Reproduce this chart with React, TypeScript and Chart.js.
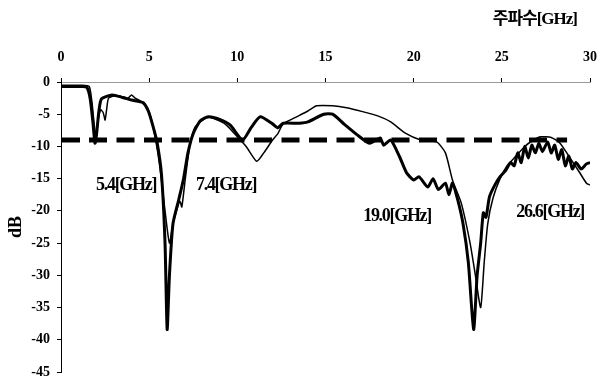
import React, { useEffect, useRef } from "react";
import { Chart, registerables } from "chart.js";

Chart.register(...registerables);

// thick trace
const freqA = [0, 1.0, 1.45, 1.65, 1.8, 1.93, 2.02, 2.15, 2.3, 2.9, 3.5, 4.0, 4.65, 4.95, 5.2, 5.45, 5.7, 5.9, 6.02, 6.15, 6.35, 6.7, 6.95, 7.2, 7.5, 7.9, 8.35, 9.0, 9.6, 10.3, 10.8, 11.3, 12.0, 12.3, 12.6, 13.5, 14.0, 14.9, 15.4, 16.0, 16.8, 17.5, 18.1, 18.3, 18.7, 19.2, 19.6, 20.0, 20.3, 20.8, 21.1, 21.4, 21.8, 22.0, 22.2, 22.5, 22.8, 23.1, 23.4, 23.6, 23.8, 23.95, 24.1, 24.3, 24.6, 24.9, 25.2, 25.5, 25.7, 25.9, 26.1, 26.3, 26.5, 26.7, 26.9, 27.1, 27.3, 27.6, 27.8, 28.0, 28.2, 28.4, 28.6, 28.8, 29.0, 29.2, 29.5, 29.8, 30];
const dbA = [-0.7, -0.7, -0.8, -2.5, -6, -9.5, -8, -4.5, -2.6, -2.0, -2.4, -2.8, -3.2, -4.5, -6.7, -9.4, -14.4, -25, -38.4, -30, -22, -18, -15, -11, -8, -6, -5.4, -5.8, -6.7, -9, -7, -5.4, -6.5, -7.1, -6.4, -6.4, -6.2, -5, -5, -6.4, -8.2, -9.5, -8.7, -9.8, -9, -11.6, -14.1, -15.2, -14.7, -16.3, -15, -16.7, -15.7, -17.5, -15.7, -18.3, -22, -28, -38.4, -30, -25, -20.3, -21, -17.8, -16, -14.7, -13.8, -12.5, -13, -11, -12.5, -10, -11.8, -9.8, -11, -9.5, -10.8, -9.3, -11, -9.8, -12, -10.5, -13, -11.5, -13.5, -12.5, -13.5, -12.7, -12.5];

// thin trace
const freqB = [0, 1.2, 1.6, 1.75, 1.9, 2.0, 2.1, 2.25, 2.4, 2.5, 2.6, 2.7, 3.1, 3.5, 3.8, 4.0, 4.2, 4.6, 4.9, 5.1, 5.35, 5.6, 5.9, 6.15, 6.35, 6.6, 6.75, 6.85, 7.05, 7.3, 7.6, 8.2, 8.5, 9.3, 10.0, 10.5, 11.1, 11.5, 12.0, 12.3, 12.6, 13.3, 14.0, 14.5, 15.4, 16.2, 17.1, 18.0, 18.7, 19.5, 20.4, 21.3, 21.8, 22.2, 22.7, 23.2, 23.5, 23.8, 24.0, 24.2, 24.5, 24.9, 25.3, 25.8, 26.3, 26.8, 27.2, 27.8, 28.3, 28.8, 29.4, 29.8, 30];
const dbB = [-0.5, -0.5, -0.7, -3, -7, -8.5, -6, -4.3, -4.8, -5.9, -4, -2.5, -2.1, -2.3, -2.5, -2.0, -2.5, -3.1, -4, -5.5, -8.7, -13, -20, -25, -22, -19.5, -18.5, -19.4, -15, -10, -7, -5.6, -5.5, -6.5, -8.5, -10, -12.3, -11, -9, -8, -6.5, -5.5, -4.5, -3.7, -3.7, -4, -4.6, -5.3, -6.2, -7.9, -9, -9.3, -11, -15.2, -18.8, -25, -30, -35, -28, -22, -18, -15, -13, -11.5, -10, -9, -8.5, -8.6, -9.5, -11.5, -14, -15.7, -16];

// -9 dB reference line
const refFreq = [0, 28.7];
const refDb = [-9, -9];

const xTicks = [0, 5, 10, 15, 20, 25, 30];
const yTicks = [0, -5, -10, -15, -20, -25, -30, -35, -40, -45];

const xTitle = "주파수[GHz]";
const yTitle = "dB";
const bandLabels = ["5.4[GHz]", "7.4[GHz]", "19.0[GHz]", "26.6[GHz]"];
const bandLabelFreq = [3.69, 9.36, 19.06, 27.74];
const bandLabelDb = [-16.1, -16.0, -20.9, -20.3];

const serif = "'Liberation Serif', 'Times New Roman', serif";

const toPts = (xs: number[], ys: number[]) => xs.map((x, i) => ({ x, y: ys[i] }));

const labelPlugin = {
  id: "bandLabels",
  afterDraw(chart: any) {
    const { ctx, scales, chartArea } = chart;
    ctx.save();
    // dashed -9 dB reference line, positioned through the scales
    const x0 = scales.x.getPixelForValue(refFreq[0]) + 1;
    const x1 = scales.x.getPixelForValue(refFreq[1]);
    const yr = scales.y.getPixelForValue(refDb[0]);
    ctx.fillStyle = "#000";
    ctx.globalAlpha = 1;
    ctx.globalCompositeOperation = "source-over";
    ctx.fillRect(x0, yr - 2.5, 18, 5);
    for (let x = x0 + 27; x < x1; x += 27.5) {
      ctx.fillRect(x, yr - 2.5, Math.min(18, x1 - x), 5);
    }

    ctx.font = `bold 18px ${serif}`;
    ctx.textAlign = "center";
    ctx.textBaseline = "middle";
    try { (ctx as any).letterSpacing = "-1.3px"; } catch (e) {}
    bandLabels.forEach((t, i) => {
      ctx.fillText(t, scales.x.getPixelForValue(bandLabelFreq[i]), scales.y.getPixelForValue(bandLabelDb[i]));
    });
    ctx.font = `bold 17px ${serif}, 'Noto Sans CJK KR'`;
    ctx.textAlign = "right";
    try { (ctx as any).letterSpacing = "-1px"; } catch (e) {}
    ctx.fillText(xTitle, chartArea.right - 13, 20);
    ctx.restore();
  },
};

export default function App() {
  const ref = useRef<HTMLCanvasElement>(null);
  useEffect(() => {
    document.body.style.margin = "0";
    const chart = new Chart(ref.current!, {
      type: "line",
      data: {
        datasets: [
          { data: toPts(freqA, dbA), borderColor: "#000", borderWidth: 3, pointRadius: 0, tension: 0.2, fill: false },
          { data: toPts(freqB, dbB), borderColor: "#000", borderWidth: 1.5, pointRadius: 0, tension: 0.2, fill: false },
        ],
      },
      plugins: [labelPlugin],
      options: {
        animation: false,
        responsive: true,
        maintainAspectRatio: false,
        layout: { padding: { left: 0, top: 0, right: 7, bottom: 4 } },
        plugins: { legend: { display: false }, tooltip: { enabled: false } },
        scales: {
          x: {
            type: "linear",
            position: "top",
            min: 0,
            max: 30,
            afterBuildTicks: (s: any) => { s.ticks = xTicks.map((v) => ({ value: v })); },
            afterFit: (s: any) => { s.height = 82; s.paddingLeft = 0; s.paddingRight = 0; },
            ticks: { color: "#000", font: { family: serif, size: 14, weight: "bold" }, padding: 12, maxRotation: 0 },
            grid: { drawOnChartArea: false, drawTicks: true, tickLength: 4, color: "#000" },
            border: { color: "#9a9a9a", width: 1, dash: [7, 5] },
          },
          y: {
            type: "linear",
            min: -45,
            max: 0,
            afterBuildTicks: (s: any) => { s.ticks = yTicks.map((v) => ({ value: v })); },
            afterFit: (s: any) => { s.width = 61; s.paddingTop = 0; s.paddingBottom = 0; },
            ticks: { color: "#000", font: { family: serif, size: 14, weight: "bold" }, padding: 7 },
            grid: { drawOnChartArea: false, drawTicks: true, tickLength: 4, color: "#000" },
            border: { color: "#000", width: 1 },
            title: { display: true, text: yTitle, color: "#000", font: { family: serif, size: 18, weight: "bold" }, padding: { top: 6, bottom: 0 } },
          },
        },
      },
    });
    return () => chart.destroy();
  }, []);
  return (
    <div style={{ position: "relative", width: 597, height: 376 }}>
      <canvas ref={ref} />
    </div>
  );
}
